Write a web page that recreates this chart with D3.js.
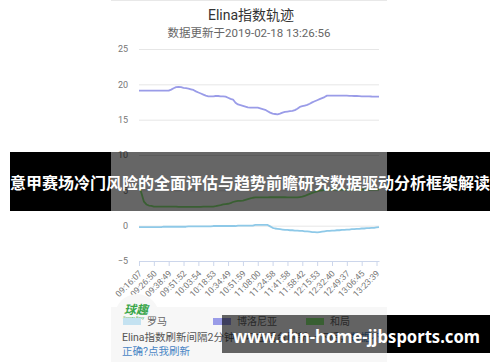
<!DOCTYPE html>
<html><head><meta charset="utf-8">
<script src="https://cdn.jsdelivr.net/npm/d3@7"></script>
<style>body{margin:0;background:#fff;}svg{display:block;}</style>
</head><body><svg id="c" width="500" height="362"></svg>
<script>
const titleText = "Elina指数轨迹";
const subtitleText = "数据更新于2019-02-18 13:26:56";
const seriesNames = ["罗马", "博洛尼亚", "和局"];
const seriesColors = ["#8ec9e8", "#9a9ce8", "#90ed7d"];
const legendSwatchColors = ["#c4e2f1", "#9a9ce8", "#90ed7d"];
const yTicks = [-5, 0, 5, 10, 15, 20, 25];
const tickLabels = ["09:16:07","09:26:50","09:38:49","09:51:52","10:03:54","10:18:53","10:34:49","10:51:59","11:08:00","11:24:58","11:41:58","11:58:42","12:15:53","12:32:40","12:49:37","13:06:45","13:23:39"];
const tickEvery = 6;
const romaValues = [
 -0.2,-0.2,-0.2,-0.2,-0.2,-0.2,-0.2,-0.2,-0.2,-0.2,
 -0.15,-0.15,-0.15,-0.15,-0.15,-0.15,-0.15,-0.15,-0.15,-0.15,
 -0.1,-0.1,-0.1,-0.1,-0.1,-0.1,-0.1,-0.1,-0.1,-0.1,
 -0.05,-0.05,-0.05,-0.05,-0.05,-0.05,-0.05,-0.05,-0.05,-0.05,
 0,0,0,0,0,0,0,
 0.1,0.1,0.1,0.1,0.1,0.1,
 -0.1,-0.3,-0.4,-0.45,-0.5,-0.55,-0.6,-0.6,-0.65,-0.65,-0.7,-0.7,-0.75,-0.75,-0.8,-0.8,-0.85,-0.9,-0.9,-0.95,
 -0.9,-0.85,-0.8,-0.75,-0.75,-0.7,-0.7,-0.65,-0.65,-0.6,-0.6,-0.55,-0.55,-0.5,-0.5,-0.45,-0.45,-0.4,-0.4,-0.35,-0.35,-0.3,-0.3,-0.25,-0.2];
const bolognaValues = [
 19.1,19.1,19.1,19.1,19.1,19.1,19.1,19.1,19.1,19.1,19.1,19.1,19.1,
 19.25,19.45,19.6,19.65,19.6,19.5,19.45,19.4,19.3,19.2,19.0,18.85,18.7,18.55,18.4,18.3,18.3,18.3,18.35,18.35,18.3,18.3,18.25,
 18.1,17.95,17.85,17.4,17.15,17.05,16.95,16.85,16.75,16.7,16.7,16.7,16.7,16.6,16.5,16.4,16.2,16.0,15.85,15.8,15.75,
 15.85,16.0,16.1,16.15,16.2,16.25,16.35,16.55,16.8,16.9,17.0,17.1,17.25,17.45,17.6,17.75,17.9,18.05,18.2,18.4,
 18.4,18.4,18.4,18.4,18.4,18.4,18.4,18.4,18.38,18.37,18.35,18.35,18.33,18.3,18.3,18.3,18.3,18.28,18.27,18.25,18.25];
const drawValues = [
 5.8,4.6,3.4,3.0,2.85,2.8,
 2.7,2.7,2.7,2.7,2.7,2.7,2.7,2.7,2.7,2.7,2.65,2.65,2.65,2.65,2.65,2.65,2.65,2.65,2.65,2.65,2.7,2.7,2.7,2.7,2.7,
 2.75,2.85,2.9,3.0,3.05,3.1,3.2,3.35,3.45,3.5,3.52,3.55,3.65,3.75,3.85,3.95,
 4.0,
 4.0,4.0,4.0,4.0,4.0,4.02,4.02,4.02,4.02,4.02,4.02,4.02,4.0,4.0,4.0,4.0,4.0,
 4.05,4.1,4.2,4.35,4.5,4.65,4.75,4.85,4.95,5.0,5.05,
 5.1,5.1,5.1,5.1,5.1,5.1,5.1,5.1,5.1,5.1,5.1,5.1,5.1,5.1,5.1,5.1,5.1,5.1,5.1,5.1,5.1,5.1];
const bannerTitle = "意甲赛场冷门风险的全面评估与趋势前瞻研究数据驱动分析框架解读";
const bannerSite = "www.chn-home-jjbsports.com";

const font = "Roboto, 'Noto Sans CJK SC', sans-serif";
const svg = d3.select("#c");

// card
svg.append("line").attr("x1",111).attr("x2",387).attr("y1",0.5).attr("y2",0.5).attr("stroke","#e8e8e8");

svg.append("text").attr("x",251).attr("y",20).attr("text-anchor","middle")
  .attr("font-family",font).attr("font-size",14).attr("fill","#333").text(titleText);
svg.append("text").attr("x",249).attr("y",37).attr("text-anchor","middle")
  .attr("font-family",font).attr("font-size",11.5).attr("fill","#666").text(subtitleText);

const n = bolognaValues.length;
const x = d3.scaleLinear().domain([0, n-1]).range([139, 379]);
const y = d3.scaleLinear().domain([-5, 25]).range([261, 49]);

// y grid + labels
const ya = svg.append("g").attr("transform","translate(139,0)")
  .call(d3.axisLeft(y).tickValues(yTicks).tickSize(-240).tickPadding(11).tickFormat(d3.format("d")));
ya.select(".domain").remove();
ya.selectAll(".tick line").attr("stroke", d => d === -5 ? "none" : "#e6e6e6");
ya.selectAll(".tick text").attr("font-family",font).attr("font-size",9).attr("fill","#777");

// x axis
const xa = svg.append("g").attr("transform","translate(0,261)")
  .call(d3.axisBottom(x).tickValues(d3.range(0, n, tickEvery).slice(0, tickLabels.length))
    .tickFormat((d,i)=>tickLabels[i]).tickSize(5).tickSizeOuter(0));
xa.select(".domain").attr("stroke","#ccd6eb");
xa.selectAll(".tick line").attr("stroke","#ccd6eb");
xa.selectAll(".tick text").attr("font-family",font).attr("font-size",8.6).attr("fill","#777")
  .attr("text-anchor","end").attr("y",0).attr("dy",0)
  .attr("transform","translate(3,13) rotate(-45)");

// lines
const line = d3.line().x((d,i)=>x(i)).y(d=>y(d)).curve(d3.curveLinear);
[romaValues, bolognaValues, drawValues].forEach((vals, k) => {
  svg.append("path").datum(vals).attr("d", line).attr("fill","none")
    .attr("stroke", seriesColors[k]).attr("stroke-width", 1.8).attr("stroke-linejoin","round");
});

// bottom legend block
svg.append("rect").attr("x",111).attr("y",307).attr("width",276).attr("height",55).attr("fill","#f7f7f7");
svg.append("circle").attr("cx",137).attr("cy",316).attr("r",22).attr("fill","#f7f7f7");
svg.append("text").attr("x",124).attr("y",314).attr("font-family","'Noto Sans CJK SC'").attr("font-weight","bold")
  .attr("font-style","italic").attr("font-size",12).attr("fill","#3aa64a").text("球趣");
svg.append("text").attr("x",123).attr("y",319).attr("font-family",font).attr("font-size",4)
  .attr("font-style","italic").attr("fill","#3aa64a").text("Soccer Envy");

const legendX = [123, 213, 306];
seriesNames.forEach((name, k) => {
  svg.append("rect").attr("x",legendX[k]).attr("y",318).attr("width",18).attr("height",7).attr("fill",legendSwatchColors[k]);
  svg.append("text").attr("x",legendX[k]+24).attr("y",325).attr("font-family",font).attr("font-size",10)
    .attr("fill","#666").text(name);
});
const note = svg.append("text").attr("x",122).attr("y",341).attr("font-family",font).attr("font-size",10.5).attr("fill","#555");
note.append("tspan").text("Elina指数刷新间隔2分钟，可在后台刷新一下后，");
note.append("tspan").attr("fill","#4a86c5").text("数据不");
svg.append("text").attr("x",122).attr("y",355).attr("font-family",font).attr("font-size",10.5).attr("fill","#4a86c5").text("正确?点我刷新");

// overlay banners
function banner(x0, x1, y0, y1) {
  svg.append("rect").attr("x",x0).attr("y",y0).attr("width",111-x0).attr("height",y1-y0).attr("fill","#000").attr("display", x0<111?null:"none");
  const a = Math.max(x0,111), b = Math.min(x1,387);
  svg.append("rect").attr("x",a).attr("y",y0).attr("width",b-a).attr("height",y1-y0).attr("fill","rgba(0,0,0,0.6)");
  svg.append("rect").attr("x",387).attr("y",y0).attr("width",x1-387).attr("height",y1-y0).attr("fill","#000");
}
banner(10, 490, 152, 211);
svg.append("text").attr("x",250).attr("y",189).attr("text-anchor","middle")
  .attr("font-family","'Noto Sans CJK SC', sans-serif").attr("font-weight","bold").attr("font-size",16)
  .attr("fill","#fff").text(bannerTitle);
banner(222, 490, 315, 353);
svg.append("text").attr("x",233).attr("y",342.5)
  .attr("font-family","'Noto Sans', 'Open Sans', sans-serif").attr("font-weight","bold").attr("font-size",17)
  .attr("textLength",247).attr("lengthAdjust","spacingAndGlyphs")
  .attr("fill","#fff").text(bannerSite);
</script></body></html>
